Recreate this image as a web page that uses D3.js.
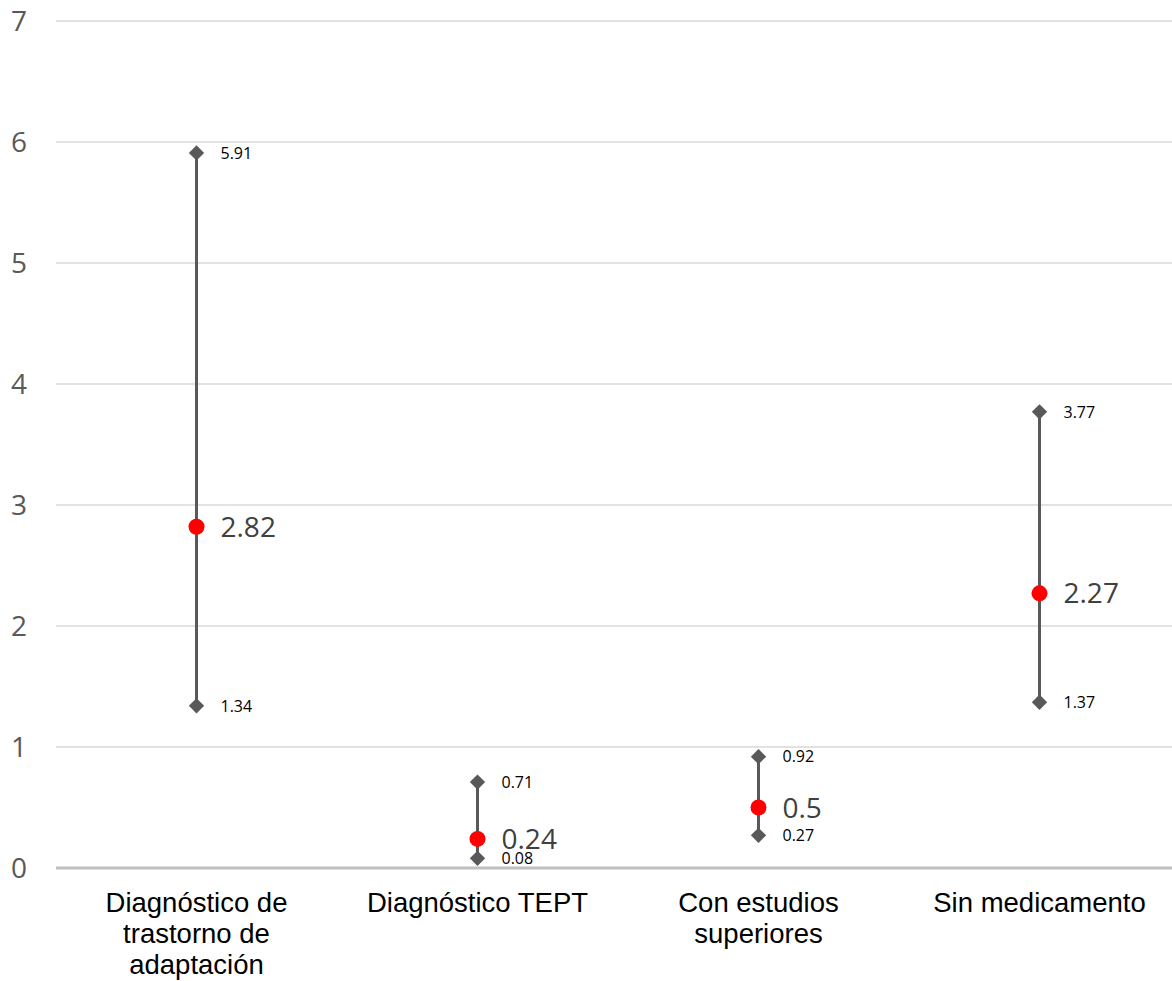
<!DOCTYPE html>
<html lang="es">
<head>
<meta charset="utf-8">
<title>Intervalos</title>
<script src="https://cdn.jsdelivr.net/npm/d3@7"></script>
<style>
  body { margin: 0; background: #fff; }
  svg { display: block; }
</style>
</head>
<body>
<script>
// data
var categories = [
  ["Diagnóstico de", "trastorno de", "adaptación"],
  ["Diagnóstico TEPT"],
  ["Con estudios", "superiores"],
  ["Sin medicamento"]
];
var estimates = [2.82, 0.24, 0.5, 2.27];
var upper = [5.91, 0.71, 0.92, 3.77];
var lower = [1.34, 0.08, 0.27, 1.37];
var yTicks = [0, 1, 2, 3, 4, 5, 6, 7];

var w = 1172, h = 981;
var svg = d3.select("body").append("svg")
  .attr("width", w)
  .attr("height", h);

var x = d3.scaleBand()
  .domain(d3.range(categories.length))
  .range([56, 1180]);

var y = d3.scaleLinear()
  .domain([0, 7])
  .range([868, 21]);

// gridlines
svg.append("g")
  .selectAll("line")
  .data(yTicks.filter(function (d) { return d > 0; }))
  .enter().append("line")
  .attr("x1", 56).attr("x2", w)
  .attr("y1", function (d) { return y(d); })
  .attr("y2", function (d) { return y(d); })
  .attr("stroke", "#d9d9d9")
  .attr("stroke-width", 1.3);

// y labels
svg.append("g")
  .selectAll("text")
  .data(yTicks)
  .enter().append("text")
  .attr("x", 19)
  .attr("y", function (d) { return y(d); })
  .attr("dy", "0.36em")
  .attr("text-anchor", "middle")
  .attr("font-family", "'Open Sans', sans-serif")
  .attr("font-size", 28)
  .attr("fill", "#595959")
  .text(function (d) { return d; });

// baseline
svg.append("line")
  .attr("x1", 56).attr("x2", w)
  .attr("y1", y(0)).attr("y2", y(0))
  .attr("stroke", "#bfbfbf")
  .attr("stroke-width", 3);

// category labels
var cat = svg.append("g")
  .selectAll("text")
  .data(categories)
  .enter().append("text")
  .attr("text-anchor", "middle")
  .attr("font-family", "'Liberation Sans', Arial, sans-serif")
  .attr("font-size", 27.5)
  .attr("fill", "#000");
cat.each(function (lines, i) {
  var t = d3.select(this);
  lines.forEach(function (l, j) {
    t.append("tspan")
      .attr("x", x(i) + x.bandwidth() / 2)
      .attr("y", 912 + j * 31)
      .text(l);
  });
});

var g = svg.append("g")
  .selectAll("g")
  .data(estimates)
  .enter().append("g")
  .attr("transform", function (d, i) { return "translate(" + (x(i) + x.bandwidth() / 2) + ",0)"; });

// range lines
g.append("line")
  .attr("y1", function (d, i) { return y(upper[i]); })
  .attr("y2", function (d, i) { return y(lower[i]); })
  .attr("stroke", "#595959")
  .attr("stroke-width", 3);

// diamonds
var diamond = d3.symbol().type(d3.symbolDiamond2).size(150);
[upper, lower].forEach(function (arr) {
  g.append("path")
    .attr("d", diamond)
    .attr("transform", function (d, i) { return "translate(0," + y(arr[i]) + ")"; })
    .attr("fill", "#595959");
  g.append("text")
    .attr("x", 24)
    .attr("y", function (d, i) { return y(arr[i]); })
    .attr("dy", "0.36em")
    .attr("font-family", "'Open Sans', sans-serif")
    .attr("font-size", 16)
    .attr("fill", "#000")
    .text(function (d, i) { return arr[i]; });
});

// point estimates
g.append("circle")
  .attr("cy", function (d) { return y(d); })
  .attr("r", 8)
  .attr("fill", "#ff0000");
g.append("text")
  .attr("x", 24)
  .attr("y", function (d) { return y(d); })
  .attr("dy", "0.36em")
  .attr("font-family", "'Open Sans', sans-serif")
  .attr("font-size", 28)
  .attr("fill", "#404040")
  .text(function (d) { return d; });
</script>
</body>
</html>
